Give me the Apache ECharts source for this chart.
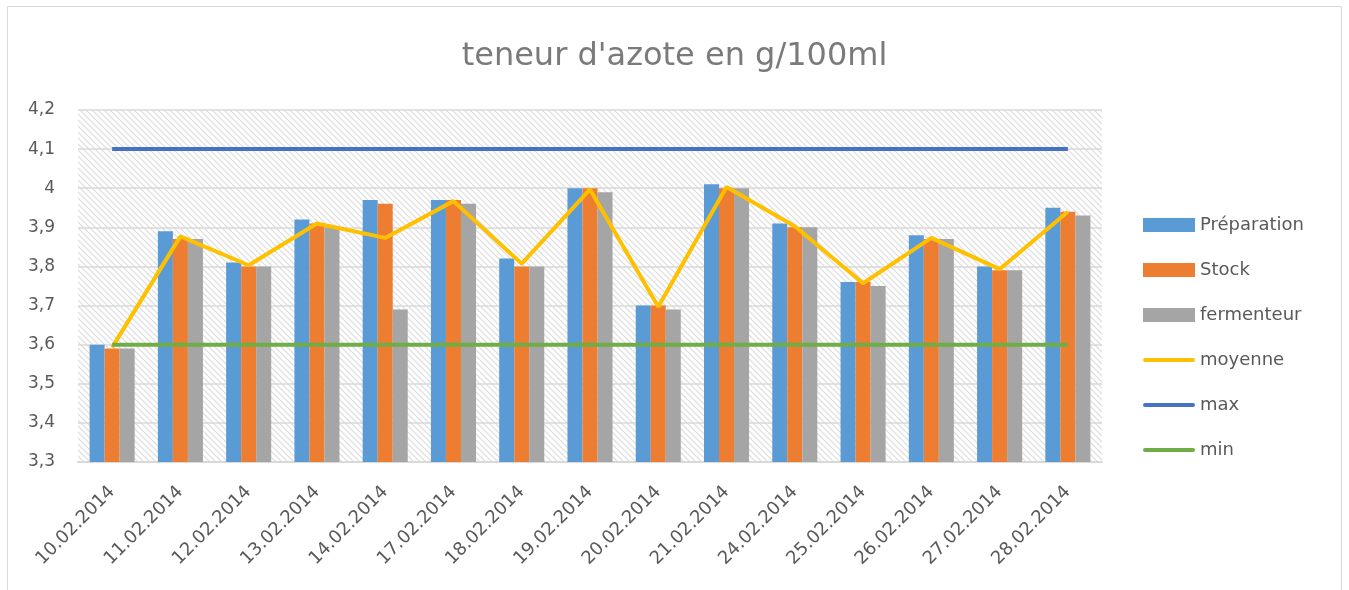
<!DOCTYPE html>
<html>
<head>
<meta charset="utf-8">
<title>teneur d'azote</title>
<script src="https://cdn.jsdelivr.net/npm/echarts@6/dist/echarts.min.js"></script>
<style>
  html, body { margin: 0; padding: 0; background: #fff; }
  #chart { width: 1349px; height: 590px; }
</style>
</head>
<body>
<div id="chart"></div>
<script>
var dates = ['10.02.2014', '11.02.2014', '12.02.2014', '13.02.2014', '14.02.2014',
  '17.02.2014', '18.02.2014', '19.02.2014', '20.02.2014', '21.02.2014',
  '24.02.2014', '25.02.2014', '26.02.2014', '27.02.2014', '28.02.2014']
var preparation = [3.60, 3.89, 3.81, 3.92, 3.97, 3.97, 3.82, 4.00, 3.70, 4.01, 3.91, 3.76, 3.88, 3.80, 3.95]
var stock = [3.59, 3.87, 3.80, 3.91, 3.96, 3.97, 3.80, 4.00, 3.70, 4.00, 3.90, 3.76, 3.87, 3.79, 3.94]
var fermenteur = [3.59, 3.87, 3.80, 3.90, 3.69, 3.96, 3.80, 3.99, 3.69, 4.00, 3.90, 3.75, 3.87, 3.79, 3.93]
var moyenne = [3.593, 3.877, 3.803, 3.91, 3.873, 3.967, 3.807, 3.997, 3.697, 4.003, 3.903, 3.757, 3.873, 3.793, 3.94]
var maxLine = [4.1, 4.1, 4.1, 4.1, 4.1, 4.1, 4.1, 4.1, 4.1, 4.1, 4.1, 4.1, 4.1, 4.1, 4.1]
var minLine = [3.6, 3.6, 3.6, 3.6, 3.6, 3.6, 3.6, 3.6, 3.6, 3.6, 3.6, 3.6, 3.6, 3.6, 3.6]

// hatch fill for the plot area
var hatch = document.createElement('canvas')
hatch.width = 6
hatch.height = 6
var hc = hatch.getContext('2d')
hc.fillStyle = '#ffffff'
hc.fillRect(0, 0, 6, 6)
hc.strokeStyle = '#dcdcdc'
hc.lineWidth = 1.2
hc.beginPath()
hc.moveTo(-1, -1); hc.lineTo(7, 7)
hc.moveTo(-1, 5); hc.lineTo(1, 7)
hc.moveTo(5, -1); hc.lineTo(7, 1)
hc.stroke()

var font = '"DejaVu Sans", sans-serif'
var textColor = '#595959'
var lineIcon = 'path://M2,0 L50,0 A2,2 0 0 1 50,4 L2,4 A2,2 0 0 1 2,0 Z'

var myChart = echarts.init(document.getElementById('chart'), null, { renderer: 'canvas' })
var option = {
  backgroundColor: '#fff',
  animation: false,
  textStyle: { fontFamily: font },
  graphic: [{
    type: 'rect',
    shape: { x: 7.5, y: 6.5, width: 1334, height: 620 },
    style: { fill: 'none', stroke: '#d9d9d9', lineWidth: 1 },
    silent: true
  }],
  title: {
    text: "teneur d'azote en g/100ml",
    left: 'center',
    top: 36,
    textStyle: { fontFamily: font, fontSize: 32, fontWeight: 'normal', color: '#7a7a7a' }
  },
  legend: {
    orient: 'vertical',
    left: 1138,
    top: 210,
    itemWidth: 52,
    itemHeight: 14,
    itemGap: 25,
    textStyle: { fontFamily: font, fontSize: 18, lineHeight: 20, color: textColor },
    data: [
      { name: 'Préparation', icon: 'rect' },
      { name: 'Stock', icon: 'rect' },
      { name: 'fermenteur', icon: 'rect' },
      { name: 'moyenne', icon: lineIcon },
      { name: 'max', icon: lineIcon },
      { name: 'min', icon: lineIcon }
    ]
  },
  grid: {
    left: 78,
    right: 247,
    top: 110,
    bottom: 128,
    show: true,
    borderWidth: 0,
    backgroundColor: { image: hatch, repeat: 'repeat' }
  },
  xAxis: {
    type: 'category',
    data: dates,
    axisTick: { show: false },
    axisLine: { lineStyle: { color: '#d9d9d9', width: 2 } },
    axisLabel: {
      rotate: 45,
      interval: 0,
      margin: 27,
      fontFamily: font,
      fontSize: 18,
      color: textColor
    }
  },
  yAxis: {
    type: 'value',
    min: 3.3,
    max: 4.2,
    interval: 0.1,
    axisLine: { show: false },
    axisTick: { show: false },
    splitLine: { lineStyle: { color: '#d9d9d9', width: 1.5 } },
    axisLabel: {
      margin: 23,
      fontFamily: font,
      fontSize: 17,
      color: textColor,
      formatter: function (v) { return String(+v.toFixed(1)).replace('.', ',') }
    }
  },
  series: [
    { name: 'Préparation', type: 'bar', data: preparation, barGap: '0%', barCategoryGap: '34%', itemStyle: { color: '#5B9BD5' } },
    { name: 'Stock', type: 'bar', data: stock, barGap: '0%', barCategoryGap: '34%', itemStyle: { color: '#ED7D31' } },
    { name: 'fermenteur', type: 'bar', data: fermenteur, barGap: '0%', barCategoryGap: '34%', itemStyle: { color: '#A5A5A5' } },
    { name: 'moyenne', type: 'line', data: moyenne, symbol: 'none', z: 5, lineStyle: { color: '#FFC000', width: 4 }, itemStyle: { color: '#FFC000' } },
    { name: 'max', type: 'line', data: maxLine, symbol: 'none', z: 5, lineStyle: { color: '#4472C4', width: 4 }, itemStyle: { color: '#4472C4' } },
    { name: 'min', type: 'line', data: minLine, symbol: 'none', z: 5, lineStyle: { color: '#70AD47', width: 4 }, itemStyle: { color: '#70AD47' } }
  ]
}
myChart.setOption(option)
</script>
</body>
</html>
